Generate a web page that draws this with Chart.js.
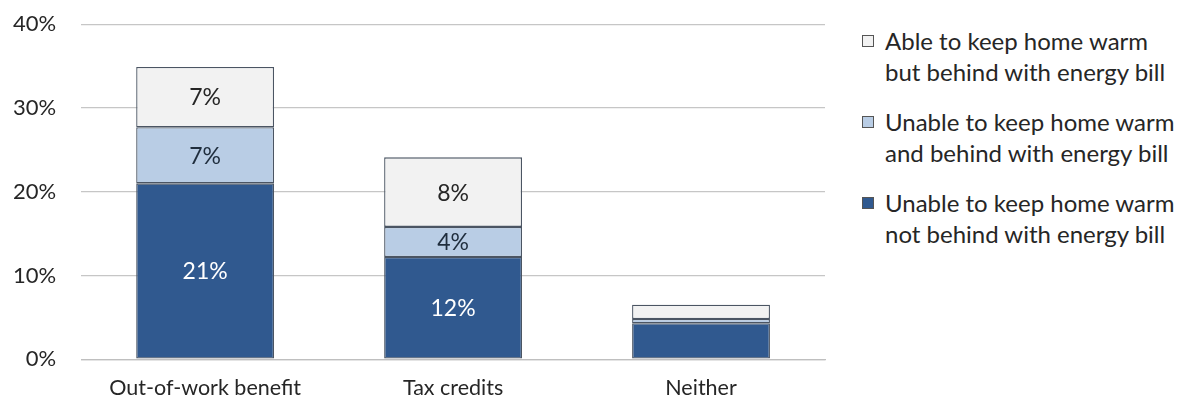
<!DOCTYPE html>
<html>
<head>
<meta charset="utf-8">
<script src="https://cdn.jsdelivr.net/npm/chart.js@4.4.0/dist/chart.umd.min.js"></script>
<style>
  html, body { margin: 0; padding: 0; background: #fff; overflow: hidden; }
  #wrap { position: relative; width: 1198px; height: 405px; overflow: hidden; }
  #chartBox { position: absolute; left: 0; top: -14px; width: 845px; height: 419px; }
  #legend { position: absolute; left: 862px; top: 25px; font-family: Lato, sans-serif; font-size: 24px; color: #262626; }
  #legend .item { position: relative; padding-left: 23px; line-height: 31px; margin-bottom: 19px; }
  #legend .box { position: absolute; left: 0; top: 10px; width: 10px; height: 10px; border: 1px solid #555; }
</style>
</head>
<body>
<div id="wrap">
  <div id="chartBox"><canvas id="chart"></canvas></div>
  <div id="legend"></div>
</div>
<script>
// categories + series (percent)
const categories = ['Out-of-work benefit', 'Tax credits', 'Neither'];
const notBehind = [21.0, 12.2, 4.3];
const andBehind = [6.7, 3.6, 0.5];
const butBehind = [7.2, 8.3, 1.7];
const showLabels = [true, true, false];
const yTicks = [0, 10, 20, 30, 40];

const seriesNames = [
    ['Unable to keep home warm', 'not behind with energy bill'],
    ['Unable to keep home warm', 'and behind with energy bill'],
    ['Able to keep home warm', 'but behind with energy bill']
];
const colors = ['#30598f', '#b9cde5', '#f2f2f2'];
const labelColors = ['#ffffff', '#1f2d3d', '#262626'];

// draw the % labels inside segments
const segmentLabels = {
    id: 'segmentLabels',
    afterDatasetsDraw(chart) {
        const ctx = chart.ctx;
        ctx.save();
        ctx.font = '23px Lato, sans-serif';
        ctx.textAlign = 'center';
        ctx.textBaseline = 'middle';
        chart.data.datasets.forEach((ds, i) => {
            const meta = chart.getDatasetMeta(i);
            meta.data.forEach((bar, j) => {
                if (!showLabels[j]) return;
                ctx.fillStyle = labelColors[i];
                ctx.fillText(Math.round(ds.data[j]) + '%', bar.x, (bar.y + bar.base) / 2 + 1);
            });
        });
        ctx.restore();
    }
};

const datasets = [notBehind, andBehind, butBehind].map((d, i) => ({
    label: seriesNames[i].join(' '),
    data: d,
    backgroundColor: colors[i],
    borderColor: '#4b5563',
    borderWidth: 1.3,
    borderSkipped: false,
    categoryPercentage: 1,
    barPercentage: 0.556
}));

new Chart(document.getElementById('chart'), {
    type: 'bar',
    data: { labels: categories, datasets },
    options: {
        responsive: true,
        maintainAspectRatio: false,
        animation: false,
        layout: { padding: { top: -12, right: 20, left: -12, bottom: -4 } },
        plugins: { legend: { display: false }, tooltip: { enabled: false } },
        scales: {
            x: {
                stacked: true,
                grid: { display: false },
                border: { display: true, color: '#bfbfbf', width: 1.3 },
                ticks: { color: '#262626', font: { family: 'Lato', size: 21.5 }, padding: 8 }
            },
            y: {
                stacked: true,
                min: 0, max: 40,
                afterBuildTicks: axis => { axis.ticks = yTicks.map(v => ({ value: v })); },
                grid: { color: '#c6c6c6', lineWidth: 1.3, drawTicks: false },
                border: { display: false },
                ticks: {
                    color: '#262626',
                    font: { family: 'Lato', size: 22 },
                    padding: 25,
                    callback: v => v + '%'
                }
            }
        }
    },
    plugins: [segmentLabels]
});

// html legend, top entry = top of the stack
const legend = document.getElementById('legend');
[2, 1, 0].forEach(i => {
    const item = document.createElement('div');
    item.className = 'item';
    item.innerHTML = '<span class="box" style="background:' + colors[i] + '"></span>' +
        seriesNames[i].join('<br>');
    legend.appendChild(item);
});
</script>
</body>
</html>
